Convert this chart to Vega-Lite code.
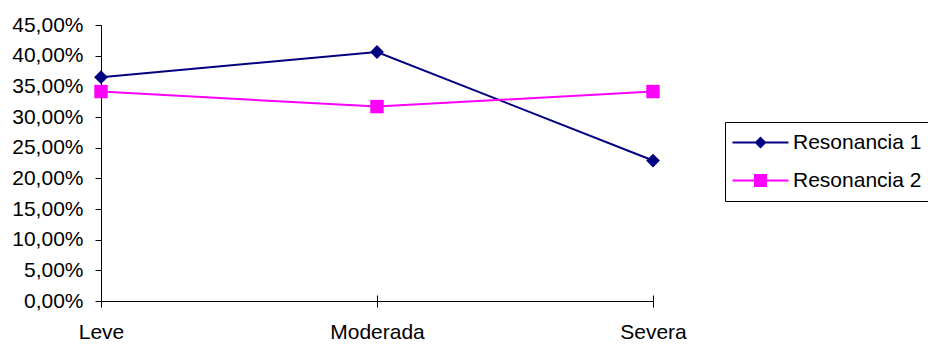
{
  "$schema": "https://vega.github.io/schema/vega-lite/v6.json",
  "width": 552,
  "height": 276,
  "autosize": "none",
  "padding": {"left": 101, "top": 25, "right": 275, "bottom": 43},
  "background": "white",
  "config": {
    "view": {"stroke": null},
    "font": "Liberation Sans"
  },
  "data": {
    "values": [
      {"grado": "Leve", "serie": "Resonancia 1", "pct": 0.365},
      {"grado": "Moderada", "serie": "Resonancia 1", "pct": 0.406},
      {"grado": "Severa", "serie": "Resonancia 1", "pct": 0.229},
      {"grado": "Leve", "serie": "Resonancia 2", "pct": 0.3415},
      {"grado": "Moderada", "serie": "Resonancia 2", "pct": 0.317},
      {"grado": "Severa", "serie": "Resonancia 2", "pct": 0.3415}
    ]
  },
  "encoding": {
    "y": {
      "field": "pct",
      "type": "quantitative",
      "title": null,
      "scale": {"domain": [0, 0.45], "nice": false},
      "axis": {
        "values": [0, 0.05, 0.1, 0.15, 0.2, 0.25, 0.3, 0.35, 0.4, 0.45],
        "labelExpr": "replace(format(datum.value, '.2%'), '.', ',')",
        "grid": false,
        "domainColor": "black",
        "domainWidth": 1,
        "tickColor": "black",
        "tickWidth": 1,
        "tickSize": 6,
        "labelPadding": 12,
        "labelColor": "black",
        "labelFont": "Liberation Sans",
        "labelFontSize": 21
      }
    },
    "color": {
      "field": "serie",
      "type": "nominal",
      "scale": {"domain": ["Resonancia 1", "Resonancia 2"], "range": ["#000080", "#FF00FF"]},
      "legend": {
        "title": null,
        "orient": "none",
        "legendX": 624,
        "legendY": 97,
        "padding": 10,
        "strokeColor": "black",
        "fillColor": "white",
        "labelFont": "Liberation Sans",
        "labelFontSize": 21,
        "labelColor": "black",
        "symbolSize": 400,
        "symbolOffset": 15,
        "labelOffset": 22,
        "rowPadding": 16,
        "encode": {
          "symbols": {
            "update": {
              "shape": {"signal": "datum.value === 'Resonancia 1' ? 'M-2.8,-0.1H-0.5L0,-0.6L0.5,-0.1H2.8V0.1H0.5L0,0.6L-0.5,0.1H-2.8Z' : 'M-2.8,-0.1H-0.65V-0.65H0.65V-0.1H2.8V0.1H0.65V0.65H-0.65V0.1H-2.8Z'"},
              "fill": {"signal": "datum.value === 'Resonancia 1' ? '#000080' : '#FF00FF'"},
              "fillOpacity": {"value": 1},
              "strokeWidth": {"value": 0},
              "opacity": {"value": 1}
            }
          }
        }
      }
    }
  },
  "layer": [
    {
      "mark": {"type": "line", "strokeWidth": 2},
      "encoding": {
        "x": {
          "field": "grado",
          "type": "nominal",
          "sort": ["Leve", "Moderada", "Severa"],
          "title": null,
          "scale": {"type": "point", "padding": 0},
          "axis": {
            "orient": "bottom",
            "labelAngle": 0,
            "domainColor": "black",
            "tickColor": "black",
            "tickSize": 6,
            "labelPadding": 14,
            "labelColor": "black",
            "labelFont": "Liberation Sans",
            "labelFontSize": 21
          }
        }
      }
    },
    {
      "transform": [{"filter": "datum.serie === 'Resonancia 1'"}],
      "mark": {"type": "point", "filled": true, "opacity": 1, "shape": "diamond", "size": 190},
      "encoding": {
        "x": {
          "field": "grado",
          "type": "nominal",
          "sort": ["Leve", "Moderada", "Severa"],
          "title": null,
          "scale": {"type": "point", "padding": 0},
          "axis": {
            "orient": "top",
            "offset": -276,
            "labels": false,
            "domain": false,
            "tickColor": "black",
            "tickSize": 6
          }
        }
      }
    },
    {
      "transform": [{"filter": "datum.serie === 'Resonancia 2'"}],
      "mark": {"type": "point", "filled": true, "opacity": 1, "shape": "square", "size": 180},
      "encoding": {
        "x": {
          "field": "grado",
          "type": "nominal",
          "sort": ["Leve", "Moderada", "Severa"],
          "title": null,
          "scale": {"type": "point", "padding": 0},
          "axis": null
        }
      }
    }
  ],
  "resolve": {"axis": {"x": "independent"}}
}
